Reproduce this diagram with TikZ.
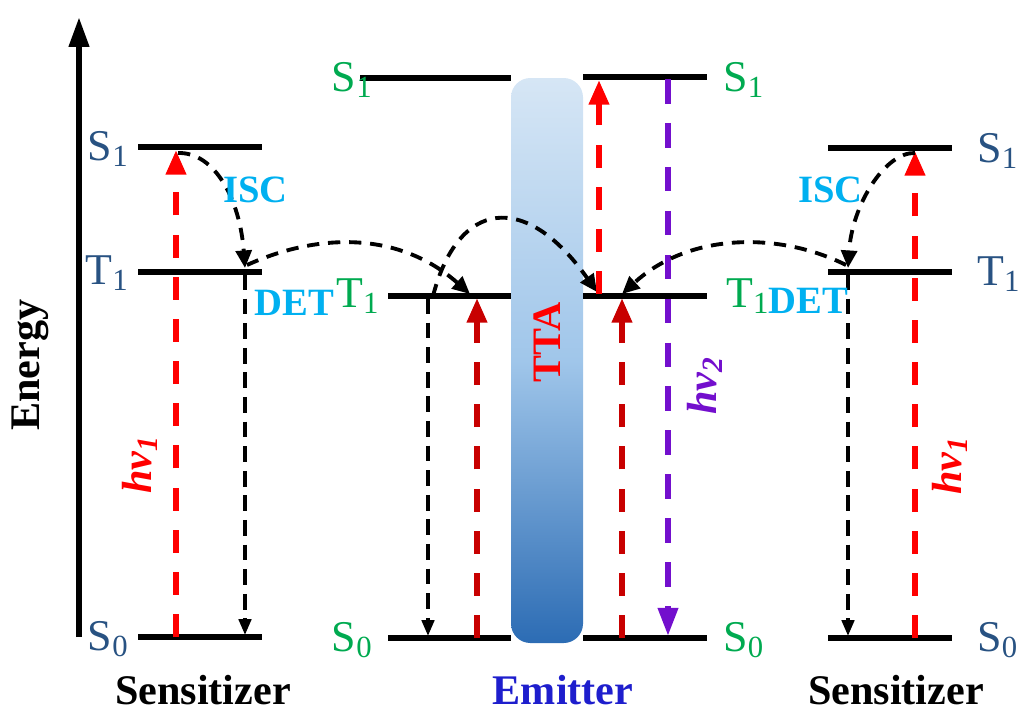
\documentclass[tikz,border=0pt]{standalone}
\usepackage{fontspec}
\setmainfont{Liberation Serif}
\usetikzlibrary{arrows.meta}
\definecolor{sensblue}{RGB}{40,82,130}
\definecolor{emgreen}{RGB}{0,170,80}
\definecolor{cyanlab}{RGB}{0,176,240}
\definecolor{redA}{RGB}{255,0,0}
\definecolor{redB}{RGB}{200,0,0}
\definecolor{purp}{RGB}{115,15,205}
\definecolor{emblue}{RGB}{30,30,205}
\definecolor{barTop}{RGB}{214,230,245}
\definecolor{barMid}{RGB}{160,198,234}
\definecolor{barBot}{RGB}{44,108,180}
\begin{document}
\begin{tikzpicture}[x=0.02cm,y=-0.02cm,
  lvl/.style={line width=3.4pt},
  lab/.style={font=\fontsize{25}{30}\selectfont, inner sep=0pt},
  blab/.style={font=\fontsize{22}{26}\selectfont\bfseries, inner sep=0pt, text=cyanlab},
  title/.style={font=\fontsize{24}{28}\selectfont\bfseries, inner sep=0pt},
  redup/.style={draw=redA, line width=3.3pt, dash pattern=on 13pt off 11pt, -{Triangle[width=11pt,length=14pt]}},
  dredup/.style={draw=redB, line width=3.3pt, dash pattern=on 13pt off 11pt, -{Triangle[width=11pt,length=14pt]}},
  blkdown/.style={draw=black, line width=2pt, dash pattern=on 9pt off 5pt, -{Triangle[width=7pt,length=9pt]}},
  blkcurve/.style={draw=black, line width=2.2pt, dash pattern=on 7pt off 5pt, -{Triangle[width=9pt,length=10pt]}},
  purpdown/.style={draw=purp, line width=3.3pt, dash pattern=on 14pt off 11pt, -{Triangle[width=11pt,length=16pt]}},
]
\useasboundingbox (0,0) rectangle (1024,720);

% energy axis
\coordinate (axB) at (79,637);
\coordinate (axT) at (79,17);
\draw[line width=3.4pt, -{Triangle[width=11pt,length=17pt]}] (axB) -- (axT);
\node[title, rotate=90] (energy) at (30,365) {Energy};

% ---------- left sensitizer ----------
\coordinate (lS1a) at (138,147); \coordinate (lS1b) at (262,147);
\coordinate (lT1a) at (138,272); \coordinate (lT1b) at (262,272);
\coordinate (lS0a) at (138,637); \coordinate (lS0b) at (262,637);
\draw[lvl] (lS1a) -- (lS1b);
\draw[lvl] (lT1a) -- (lT1b);
\draw[lvl] (lS0a) -- (lS0b);
\node[lab, text=sensblue, anchor=base east] (lS1l) at (129,160) {S\textsubscript{1}};
\node[lab, text=sensblue, anchor=base east] (lT1l) at (129,284) {T\textsubscript{1}};
\node[lab, text=sensblue, anchor=base east] (lS0l) at (129,650) {S\textsubscript{0}};

\coordinate (lexB) at (176,637); \coordinate (lexT) at (176,150);
\draw[redup] (lexB) -- (lexT);
\node[font=\fontsize{24}{28}\selectfont\bfseries\itshape, text=redA, rotate=90, inner sep=0pt] (lhv) at (140,465) {hv\textsubscript{1}};

\coordinate (liscS) at (178,153); \coordinate (liscE) at (245,268);
\draw[blkcurve] (liscS) .. controls (215,152) and (240,200) .. (liscE);
\node[blab, anchor=base west] (lisc) at (223,202) {ISC};

\coordinate (lrelT) at (245,274); \coordinate (lrelB) at (245,635);
\draw[blkdown] (lrelT) -- (lrelB);

\coordinate (ldetS) at (247,265); \coordinate (ldetE) at (470,294);
\draw[blkcurve] (ldetS) .. controls (320,232) and (400,232) .. (ldetE);
\node[blab, anchor=base west] (ldet) at (254,315) {DET};

% ---------- emitter ----------
\coordinate (barTL) at (511,78); \coordinate (barBR) at (583,643);
\shade[top color=barTop, bottom color=barBot, middle color=barMid, rounded corners=11pt] (barTL) rectangle (barBR);
\node[font=\fontsize{23}{28}\selectfont\bfseries, text=redA, rotate=90, inner sep=0pt] (tta) at (547,342) {TTA};

\coordinate (eS1a) at (360,78); \coordinate (eS1b) at (511,78);
\coordinate (eT1a) at (388,296); \coordinate (eT1b) at (511,296);
\coordinate (eS0a) at (388,638); \coordinate (eS0b) at (511,638);
\coordinate (fS1a) at (583,77); \coordinate (fS1b) at (707,77);
\coordinate (fT1a) at (583,296); \coordinate (fT1b) at (707,296);
\coordinate (fS0a) at (583,638); \coordinate (fS0b) at (707,638);
\draw[lvl] (eS1a) -- (eS1b);
\draw[lvl] (eT1a) -- (eT1b);
\draw[lvl] (eS0a) -- (eS0b);
\draw[lvl] (fS1a) -- (fS1b);
\draw[lvl] (fT1a) -- (fT1b);
\draw[lvl] (fS0a) -- (fS0b);

\node[lab, text=emgreen, anchor=base east] (eS1l) at (373,91) {S\textsubscript{1}};
\node[lab, text=emgreen, anchor=base west] (eT1l) at (336,307) {T\textsubscript{1}};
\node[lab, text=emgreen, anchor=base east] (eS0l) at (373,651) {S\textsubscript{0}};
\node[lab, text=emgreen, anchor=base west] (fS1l) at (723,91) {S\textsubscript{1}};
\node[lab, text=emgreen, anchor=base west] (fT1l) at (726,307) {T\textsubscript{1}};
\node[lab, text=emgreen, anchor=base west] (fS0l) at (723,651) {S\textsubscript{0}};

\coordinate (erelT) at (428,298); \coordinate (erelB) at (428,636);
\draw[blkdown] (erelT) -- (erelB);
\coordinate (eupB) at (477,638); \coordinate (eupT) at (477,298);
\draw[dredup] (eupB) -- (eupT);

\coordinate (ttaS) at (433,296); \coordinate (ttaE) at (597,292);
\draw[blkcurve] (ttaS) .. controls (458,200) and (525,190) .. (ttaE);

\coordinate (fupB) at (599,294); \coordinate (fupT) at (599,80);
\draw[redup] (fupB) -- (fupT);
\coordinate (gupB) at (622,638); \coordinate (gupT) at (622,298);
\draw[dredup] (gupB) -- (gupT);
\coordinate (emT) at (668,79); \coordinate (emB) at (668,636);
\draw[purpdown] (emT) -- (emB);
\node[font=\fontsize{24}{28}\selectfont\bfseries\itshape, text=purp, rotate=90, inner sep=0pt] (hv2) at (705,386) {hv\textsubscript{2}};

% ---------- right sensitizer ----------
\coordinate (rS1a) at (828,148); \coordinate (rS1b) at (952,148);
\coordinate (rT1a) at (828,272); \coordinate (rT1b) at (952,272);
\coordinate (rS0a) at (828,638); \coordinate (rS0b) at (952,638);
\draw[lvl] (rS1a) -- (rS1b);
\draw[lvl] (rT1a) -- (rT1b);
\draw[lvl] (rS0a) -- (rS0b);
\node[lab, text=sensblue, anchor=base west] (rS1l) at (977,162) {S\textsubscript{1}};
\node[lab, text=sensblue, anchor=base west] (rT1l) at (977,285) {T\textsubscript{1}};
\node[lab, text=sensblue, anchor=base west] (rS0l) at (977,651) {S\textsubscript{0}};

\coordinate (rexB) at (915,638); \coordinate (rexT) at (915,151);
\draw[redup] (rexB) -- (rexT);
\node[font=\fontsize{24}{28}\selectfont\bfseries\itshape, text=redA, rotate=90, inner sep=0pt] (rhv) at (950,466) {hv\textsubscript{1}};

\coordinate (riscS) at (915,153); \coordinate (riscE) at (848,268);
\draw[blkcurve] (riscS) .. controls (885,152) and (852,205) .. (riscE);
\node[blab, anchor=base west] (risc) at (798,202) {ISC};

\coordinate (rrelT) at (848,274); \coordinate (rrelB) at (848,636);
\draw[blkdown] (rrelT) -- (rrelB);

\coordinate (rdetS) at (846,265); \coordinate (rdetE) at (622,294);
\draw[blkcurve] (rdetS) .. controls (780,232) and (690,232) .. (rdetE);
\node[blab, anchor=base west] (rdet) at (768,313) {DET};

% ---------- titles ----------
\node[title] (sensL) at (203,690) {Sensitizer};
\node[title, text=emblue] (emit) at (563,690) {Emitter};
\node[title] (sensR) at (896,690) {Sensitizer};
\end{tikzpicture}
\end{document}
